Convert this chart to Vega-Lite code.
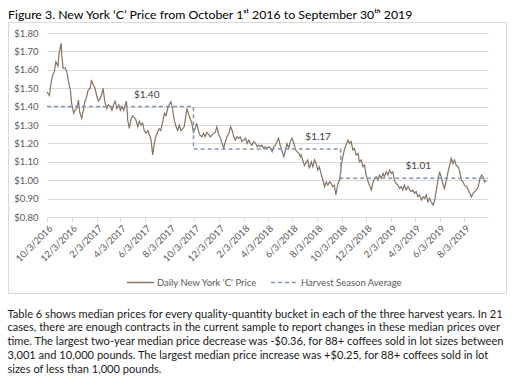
{
  "$schema": "https://vega.github.io/schema/vega-lite/v6.json",
  "padding": {"left": 7, "top": 8, "right": 7, "bottom": 0},
  "background": "white",
  "config": {
    "font": "Lato",
    "view": {"stroke": "#D9D9D9", "strokeWidth": 1}
  },
  "title": {
    "text": [
      "Table 6 shows median prices for every quality-quantity bucket in each of the three harvest years. In 21",
      "cases, there are enough contracts in the current sample to report changes in these median prices over",
      "time. The largest two-year median price decrease was -$0.36, for 88+ coffees sold in lot sizes between",
      "3,001 and 10,000 pounds. The largest median price increase was +$0.25, for 88+ coffees sold in lot",
      "sizes of less than 1,000 pounds."
    ],
    "orient": "bottom",
    "anchor": "start",
    "font": "Lato",
    "fontSize": 11.1,
    "fontWeight": "normal",
    "lineHeight": 13.8,
    "color": "#1a1a1a",
    "offset": 15
  },
  "datasets": {
    "price": [
      {"d":"2016-10-03","p":1.48},{"d":"2016-10-09","p":1.46},{"d":"2016-10-13","p":1.527},{"d":"2016-10-17","p":1.57},
      {"d":"2016-10-21","p":1.59},{"d":"2016-10-25","p":1.644},{"d":"2016-10-30","p":1.62},{"d":"2016-11-02","p":1.69},
      {"d":"2016-11-07","p":1.744},{"d":"2016-11-09","p":1.67},{"d":"2016-11-12","p":1.608},{"d":"2016-11-17","p":1.61},
      {"d":"2016-11-21","p":1.59},{"d":"2016-11-26","p":1.527},{"d":"2016-11-30","p":1.49},{"d":"2016-12-03","p":1.418},
      {"d":"2016-12-08","p":1.364},{"d":"2016-12-11","p":1.38},{"d":"2016-12-16","p":1.39},{"d":"2016-12-20","p":1.436},
      {"d":"2016-12-23","p":1.37},{"d":"2016-12-28","p":1.336},{"d":"2017-01-01","p":1.38},{"d":"2017-01-05","p":1.43},
      {"d":"2017-01-09","p":1.45},{"d":"2017-01-13","p":1.49},{"d":"2017-01-18","p":1.5},{"d":"2017-01-21","p":1.545},
      {"d":"2017-01-25","p":1.52},{"d":"2017-01-30","p":1.5},{"d":"2017-02-03","p":1.46},{"d":"2017-02-07","p":1.43},
      {"d":"2017-02-11","p":1.44},{"d":"2017-02-15","p":1.46},{"d":"2017-02-19","p":1.5},{"d":"2017-02-23","p":1.43},
      {"d":"2017-02-28","p":1.39},{"d":"2017-03-04","p":1.41},{"d":"2017-03-09","p":1.4},{"d":"2017-03-13","p":1.38},
      {"d":"2017-03-17","p":1.41},{"d":"2017-03-21","p":1.43},{"d":"2017-03-25","p":1.39},{"d":"2017-03-30","p":1.41},
      {"d":"2017-04-03","p":1.38},{"d":"2017-04-07","p":1.4},{"d":"2017-04-11","p":1.38},{"d":"2017-04-15","p":1.41},
      {"d":"2017-04-18","p":1.43},{"d":"2017-04-21","p":1.327},{"d":"2017-04-25","p":1.282},{"d":"2017-04-29","p":1.33},
      {"d":"2017-05-03","p":1.35},{"d":"2017-05-07","p":1.34},{"d":"2017-05-11","p":1.33},{"d":"2017-05-16","p":1.29},
      {"d":"2017-05-20","p":1.32},{"d":"2017-05-24","p":1.3},{"d":"2017-05-28","p":1.31},{"d":"2017-06-01","p":1.27},
      {"d":"2017-06-05","p":1.255},{"d":"2017-06-10","p":1.27},{"d":"2017-06-14","p":1.245},{"d":"2017-06-18","p":1.218},
      {"d":"2017-06-22","p":1.137},{"d":"2017-06-26","p":1.2},{"d":"2017-06-30","p":1.24},{"d":"2017-07-04","p":1.26},
      {"d":"2017-07-08","p":1.28},{"d":"2017-07-12","p":1.27},{"d":"2017-07-17","p":1.32},{"d":"2017-07-21","p":1.364},
      {"d":"2017-07-25","p":1.35},{"d":"2017-07-29","p":1.39},{"d":"2017-08-02","p":1.41},{"d":"2017-08-06","p":1.427},
      {"d":"2017-08-10","p":1.39},{"d":"2017-08-14","p":1.33},{"d":"2017-08-19","p":1.29},{"d":"2017-08-23","p":1.27},
      {"d":"2017-08-27","p":1.3},{"d":"2017-08-31","p":1.27},{"d":"2017-09-04","p":1.28},{"d":"2017-09-08","p":1.29},
      {"d":"2017-09-12","p":1.35},{"d":"2017-09-15","p":1.39},{"d":"2017-09-18","p":1.364},{"d":"2017-09-22","p":1.34},
      {"d":"2017-09-27","p":1.31},{"d":"2017-10-01","p":1.26},{"d":"2017-10-05","p":1.28},{"d":"2017-10-09","p":1.31},
      {"d":"2017-10-13","p":1.27},{"d":"2017-10-17","p":1.245},{"d":"2017-10-22","p":1.236},{"d":"2017-10-26","p":1.255},
      {"d":"2017-10-30","p":1.236},{"d":"2017-11-03","p":1.26},{"d":"2017-11-08","p":1.246},{"d":"2017-11-12","p":1.236},
      {"d":"2017-11-16","p":1.246},{"d":"2017-11-20","p":1.255},{"d":"2017-11-24","p":1.26},{"d":"2017-11-28","p":1.29},
      {"d":"2017-12-03","p":1.246},{"d":"2017-12-07","p":1.228},{"d":"2017-12-11","p":1.2},{"d":"2017-12-15","p":1.173},
      {"d":"2017-12-19","p":1.21},{"d":"2017-12-23","p":1.236},{"d":"2017-12-28","p":1.255},{"d":"2018-01-01","p":1.29},
      {"d":"2018-01-05","p":1.27},{"d":"2018-01-09","p":1.236},{"d":"2018-01-13","p":1.218},{"d":"2018-01-17","p":1.236},
      {"d":"2018-01-21","p":1.228},{"d":"2018-01-25","p":1.236},{"d":"2018-01-29","p":1.21},{"d":"2018-02-03","p":1.218},
      {"d":"2018-02-07","p":1.228},{"d":"2018-02-11","p":1.2},{"d":"2018-02-15","p":1.218},{"d":"2018-02-19","p":1.2},
      {"d":"2018-02-23","p":1.19},{"d":"2018-02-27","p":1.21},{"d":"2018-03-04","p":1.2},{"d":"2018-03-08","p":1.182},
      {"d":"2018-03-12","p":1.19},{"d":"2018-03-16","p":1.182},{"d":"2018-03-20","p":1.19},{"d":"2018-03-24","p":1.173},
      {"d":"2018-03-28","p":1.182},{"d":"2018-04-01","p":1.173},{"d":"2018-04-06","p":1.182},{"d":"2018-04-10","p":1.173},
      {"d":"2018-04-14","p":1.155},{"d":"2018-04-18","p":1.182},{"d":"2018-04-22","p":1.19},{"d":"2018-04-26","p":1.21},
      {"d":"2018-04-30","p":1.228},{"d":"2018-05-04","p":1.19},{"d":"2018-05-09","p":1.155},{"d":"2018-05-13","p":1.128},
      {"d":"2018-05-17","p":1.164},{"d":"2018-05-21","p":1.2},{"d":"2018-05-25","p":1.173},{"d":"2018-05-29","p":1.21},
      {"d":"2018-06-02","p":1.228},{"d":"2018-06-07","p":1.2},{"d":"2018-06-11","p":1.164},{"d":"2018-06-15","p":1.155},
      {"d":"2018-06-19","p":1.146},{"d":"2018-06-23","p":1.128},{"d":"2018-06-25","p":1.137},{"d":"2018-07-03","p":1.08},
      {"d":"2018-07-11","p":1.11},{"d":"2018-07-15","p":1.064},{"d":"2018-07-20","p":1.1},{"d":"2018-07-24","p":1.073},
      {"d":"2018-07-28","p":1.11},{"d":"2018-08-01","p":1.09},{"d":"2018-08-05","p":1.055},{"d":"2018-08-09","p":1.073},
      {"d":"2018-08-13","p":1.037},{"d":"2018-08-18","p":1.0},{"d":"2018-08-22","p":0.965},{"d":"2018-08-26","p":0.99},
      {"d":"2018-08-30","p":0.973},{"d":"2018-09-03","p":0.99},{"d":"2018-09-07","p":0.983},{"d":"2018-09-11","p":0.965},
      {"d":"2018-09-15","p":0.973},{"d":"2018-09-19","p":0.92},{"d":"2018-09-24","p":0.983},{"d":"2018-09-28","p":1.0},
      {"d":"2018-10-02","p":1.073},{"d":"2018-10-06","p":1.128},{"d":"2018-10-10","p":1.164},{"d":"2018-10-14","p":1.191},
      {"d":"2018-10-19","p":1.218},{"d":"2018-10-23","p":1.2},{"d":"2018-10-27","p":1.21},{"d":"2018-10-31","p":1.164},
      {"d":"2018-11-04","p":1.173},{"d":"2018-11-08","p":1.137},{"d":"2018-11-13","p":1.146},{"d":"2018-11-16","p":1.1},
      {"d":"2018-11-21","p":1.11},{"d":"2018-11-25","p":1.073},{"d":"2018-11-29","p":1.082},{"d":"2018-12-03","p":1.028},
      {"d":"2018-12-07","p":1.0},{"d":"2018-12-11","p":0.973},{"d":"2018-12-16","p":0.947},{"d":"2018-12-20","p":0.99},
      {"d":"2018-12-24","p":1.01},{"d":"2018-12-28","p":1.019},{"d":"2019-01-01","p":1.0},{"d":"2019-01-05","p":1.028},
      {"d":"2019-01-09","p":1.01},{"d":"2019-01-14","p":1.037},{"d":"2019-01-17","p":1.019},{"d":"2019-01-22","p":1.046},
      {"d":"2019-01-26","p":1.028},{"d":"2019-01-30","p":1.055},{"d":"2019-02-03","p":1.037},{"d":"2019-02-07","p":1.046},
      {"d":"2019-02-11","p":1.0},{"d":"2019-02-15","p":0.983},{"d":"2019-02-20","p":0.973},{"d":"2019-02-24","p":0.955},
      {"d":"2019-02-28","p":0.965},{"d":"2019-03-04","p":0.947},{"d":"2019-03-08","p":0.973},{"d":"2019-03-12","p":0.947},
      {"d":"2019-03-17","p":0.965},{"d":"2019-03-21","p":0.947},{"d":"2019-03-25","p":0.938},{"d":"2019-03-29","p":0.947},
      {"d":"2019-04-02","p":0.929},{"d":"2019-04-06","p":0.938},{"d":"2019-04-10","p":0.91},{"d":"2019-04-14","p":0.92},
      {"d":"2019-04-19","p":0.892},{"d":"2019-04-23","p":0.91},{"d":"2019-04-27","p":0.901},{"d":"2019-05-01","p":0.92},
      {"d":"2019-05-05","p":0.883},{"d":"2019-05-09","p":0.901},{"d":"2019-05-13","p":0.883},{"d":"2019-05-18","p":0.865},
      {"d":"2019-05-22","p":0.892},{"d":"2019-05-26","p":0.947},{"d":"2019-05-30","p":1.0},{"d":"2019-06-03","p":1.046},
      {"d":"2019-06-07","p":1.019},{"d":"2019-06-11","p":0.983},{"d":"2019-06-15","p":0.955},{"d":"2019-06-20","p":1.0},
      {"d":"2019-06-24","p":1.046},{"d":"2019-06-28","p":1.082},{"d":"2019-07-02","p":1.119},{"d":"2019-07-06","p":1.09},
      {"d":"2019-07-10","p":1.11},{"d":"2019-07-14","p":1.082},{"d":"2019-07-19","p":1.073},{"d":"2019-07-23","p":1.046},
      {"d":"2019-07-27","p":1.0},{"d":"2019-07-31","p":0.99},{"d":"2019-08-04","p":0.973},{"d":"2019-08-09","p":0.965},
      {"d":"2019-08-13","p":0.947},{"d":"2019-08-17","p":0.929},{"d":"2019-08-21","p":0.91},{"d":"2019-08-25","p":0.929},
      {"d":"2019-08-29","p":0.938},{"d":"2019-09-02","p":0.947},{"d":"2019-09-07","p":0.965},{"d":"2019-09-11","p":1.01},
      {"d":"2019-09-15","p":1.028},{"d":"2019-09-19","p":1.019},{"d":"2019-09-23","p":0.99},{"d":"2019-09-27","p":1.0}
    ],
    "avg": [
      {"d":"2016-10-03","p":1.40},
      {"d":"2017-10-01","p":1.17},
      {"d":"2018-10-01","p":1.01},
      {"d":"2019-09-30","p":1.01}
    ],
    "labels": [
      {"d":"2017-06-07","p":1.40,"t":"$1.40"},
      {"d":"2018-08-06","p":1.17,"t":"$1.17"},
      {"d":"2019-04-11","p":1.01,"t":"$1.01"}
    ]
  },
  "vconcat": [
    {
      "width": 498,
      "height": 271,
      "title": {
        "text": "Figure 3. New York ‘C’ Price from October 1ˢᵗ 2016 to September 30ᵗʰ 2019",
        "anchor": "start",
        "font": "Lato",
        "fontSize": 12.3,
        "fontWeight": "normal",
        "color": "#000000",
        "offset": 1
      },
      "encoding": {
        "x": {
          "field": "d",
          "type": "temporal",
          "scale": {
            "type": "utc",
            "domain": [
              {"year": 2016, "month": 10, "date": 3, "utc": true},
              {"year": 2019, "month": 10, "date": 1, "utc": true}
            ],
            "range": [39, 480]
          },
          "axis": {
            "title": null,
            "orient": "bottom",
            "offset": -76,
            "grid": false,
            "format": "%-m/%-d/%Y",
            "values": [
              {"year": 2016, "month": 10, "date": 3, "utc": true},
              {"year": 2016, "month": 12, "date": 3, "utc": true},
              {"year": 2017, "month": 2, "date": 3, "utc": true},
              {"year": 2017, "month": 4, "date": 3, "utc": true},
              {"year": 2017, "month": 6, "date": 3, "utc": true},
              {"year": 2017, "month": 8, "date": 3, "utc": true},
              {"year": 2017, "month": 10, "date": 3, "utc": true},
              {"year": 2017, "month": 12, "date": 3, "utc": true},
              {"year": 2018, "month": 2, "date": 3, "utc": true},
              {"year": 2018, "month": 4, "date": 3, "utc": true},
              {"year": 2018, "month": 6, "date": 3, "utc": true},
              {"year": 2018, "month": 8, "date": 3, "utc": true},
              {"year": 2018, "month": 10, "date": 3, "utc": true},
              {"year": 2018, "month": 12, "date": 3, "utc": true},
              {"year": 2019, "month": 2, "date": 3, "utc": true},
              {"year": 2019, "month": 4, "date": 3, "utc": true},
              {"year": 2019, "month": 6, "date": 3, "utc": true},
              {"year": 2019, "month": 8, "date": 3, "utc": true}
            ],
            "labelAngle": -45,
            "labelFontSize": 9.5,
            "labelColor": "#595959",
            "labelFont": "Lato",
            "labelPadding": 2,
            "domainColor": "#D9D9D9",
            "tickColor": "#D9D9D9",
            "tickSize": 4,
            "labelOverlap": false,
            "labelFlush": false
          }
        },
        "y": {
          "field": "p",
          "type": "quantitative",
          "scale": {"domain": [0.8, 1.8], "range": [195, 11], "nice": false, "zero": false},
          "axis": {
            "title": null,
            "orient": "left",
            "offset": -39,
            "values": [0.8, 0.9, 1.0, 1.1, 1.2, 1.3, 1.4, 1.5, 1.6, 1.7, 1.8],
            "format": "$.2f",
            "domain": false,
            "ticks": false,
            "labelPadding": 9,
            "labelFontSize": 9.5,
            "labelColor": "#595959",
            "labelFont": "Lato",
            "gridColor": "#D9D9D9",
            "gridWidth": 1,
            "labelOverlap": false,
            "labelFlush": false
          }
        }
      },
      "layer": [
        {
          "data": {"name": "price"},
          "mark": {"type": "line", "strokeWidth": 1.2, "interpolate": "linear"},
          "encoding": {
            "color": {
              "datum": "Daily New York 'C' Price",
              "type": "nominal",
              "scale": {"domain": ["Daily New York 'C' Price", "Harvest Season Average"], "range": ["#857463", "#8497B0"]},
              "legend": {
                "title": null,
                "orient": "none",
                "legendX": 118,
                "legendY": 246,
                "direction": "horizontal",
                "symbolType": "stroke",
                "symbolSize": 729,
                "symbolStrokeWidth": 1.5,
                "labelFontSize": 9.5,
                "labelColor": "#595959",
                "labelFont": "Lato",
                "labelOffset": 2,
                "columnPadding": 10,
                "padding": 0
              }
            },
            "strokeDash": {
              "datum": "Daily New York 'C' Price",
              "type": "nominal",
              "scale": {"domain": ["Daily New York 'C' Price", "Harvest Season Average"], "range": [[1, 0], [4, 3]]},
              "legend": {
                "title": null,
                "orient": "none",
                "legendX": 118,
                "legendY": 246,
                "direction": "horizontal",
                "symbolType": "stroke",
                "symbolSize": 729,
                "symbolStrokeWidth": 1.5,
                "labelFontSize": 9.5,
                "labelColor": "#595959",
                "labelFont": "Lato",
                "labelOffset": 2,
                "columnPadding": 10,
                "padding": 0
              }
            }
          }
        },
        {
          "data": {"name": "avg"},
          "mark": {"type": "line", "strokeWidth": 1.5, "interpolate": "step-after"},
          "encoding": {
            "color": {"datum": "Harvest Season Average", "type": "nominal"},
            "strokeDash": {"datum": "Harvest Season Average", "type": "nominal"}
          }
        },
        {
          "data": {"name": "labels"},
          "mark": {"type": "text", "dy": -12, "fontSize": 10, "font": "Lato", "color": "#404040"},
          "encoding": {
            "text": {"field": "t", "type": "nominal"}
          }
        }
      ]
    }
  ]
}
